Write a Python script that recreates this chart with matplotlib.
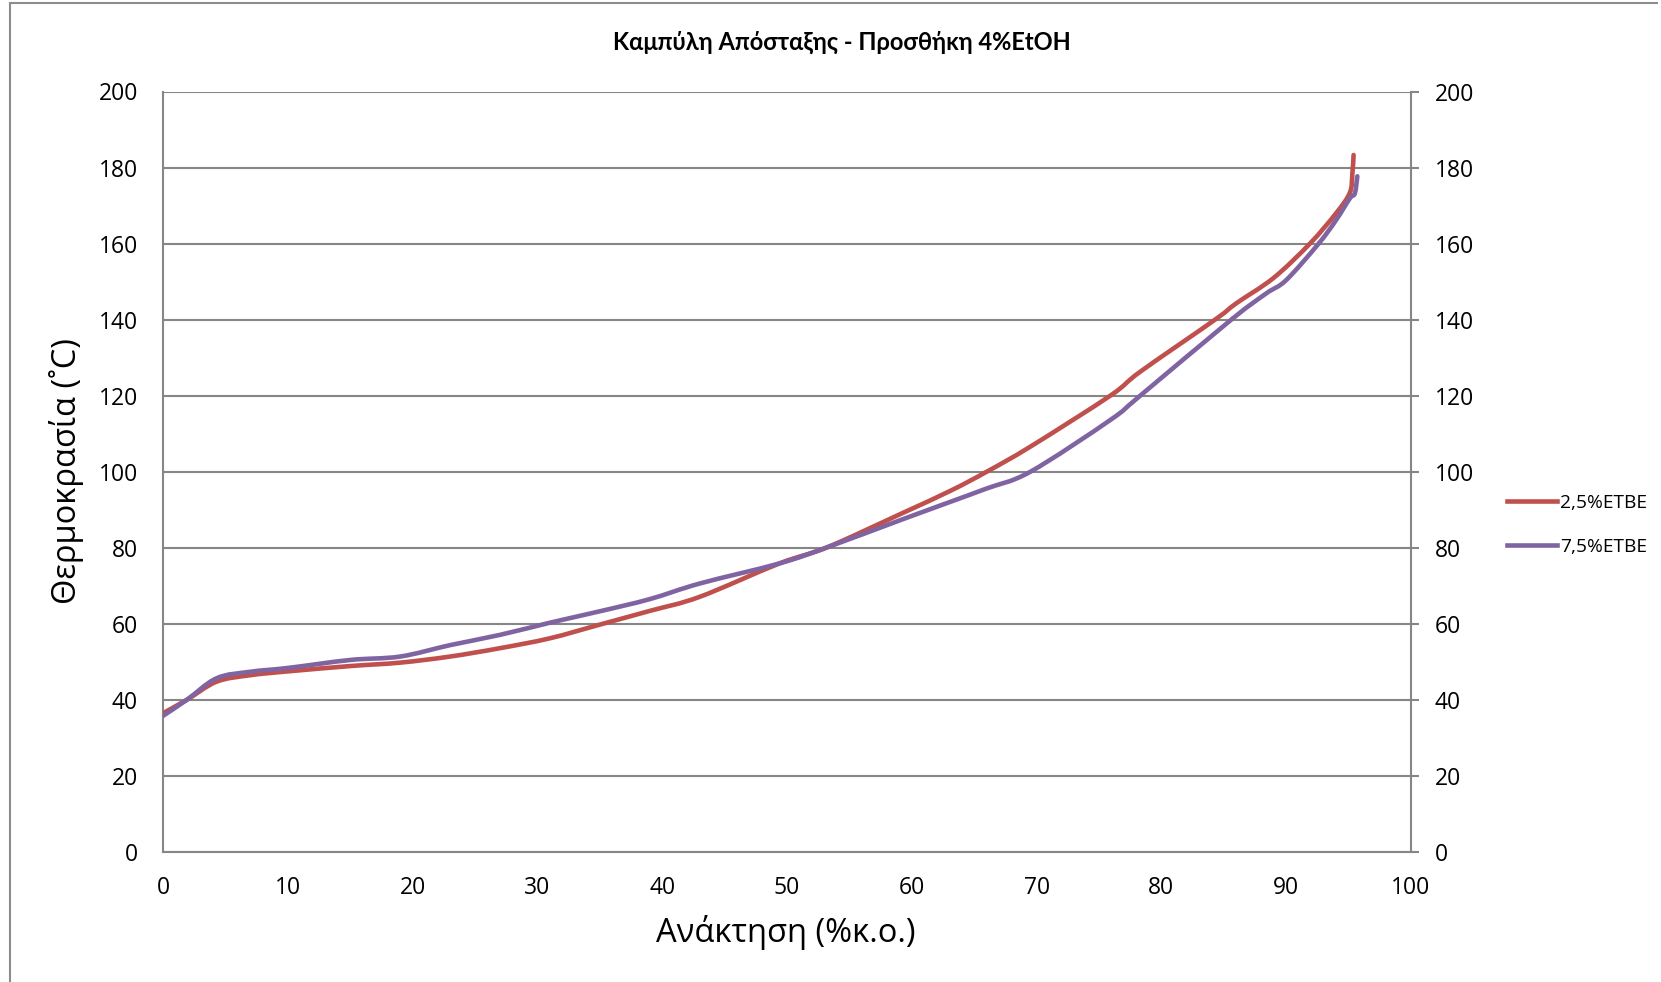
import matplotlib
matplotlib.use("Agg")
import matplotlib.pyplot as plt
from matplotlib.lines import Line2D
from matplotlib.path import Path
from matplotlib.patches import PathPatch

# Distillation curve data: recovered volume (%v/v) vs temperature (°C)
recovery_25 = [0, 1.9, 4.3, 7.0, 10, 15, 19, 23, 27, 31, 35, 39, 43, 49.4, 53.2,
               59.1, 63.1, 66.0, 69.5, 75.9, 78.3, 84.3, 86.0, 89.0,
               91.9, 94.0, 95.1, 95.3, 95.4]
temp_25 = [36.5, 40.0, 44.8, 46.5, 47.5, 48.9, 49.8, 51.4, 53.6, 56.2, 59.8, 63.4,
           67.1, 75.9, 80.1, 88.9, 95.0, 100.0, 106.6, 120.0, 126.3, 140.0,
           144.3, 151.0, 160.0, 168.0, 173.4, 178.3, 183.3]

recovery_75 = [0, 1.9, 4.3, 7.0, 10, 15, 19, 23, 27, 31, 35, 39, 43, 49.4, 53.2,
               59.1, 63.1, 66.0, 69.5, 75.9, 78.3, 85.6, 88.4, 90.0, 92.6,
               94.0, 95.1, 95.5, 95.7]
temp_75 = [35.8, 40.0, 45.7, 47.4, 48.4, 50.5, 51.4, 54.4, 57.1, 60.3, 63.3, 66.5,
           70.6, 75.9, 80.1, 87.3, 92.1, 95.6, 100.0, 113.6, 120.0, 140.0,
           146.9, 150.4, 160.0, 166.2, 171.9, 173.2, 177.7]

series_names = ["2,5%ETBE", "7,5%ETBE"]
series_colors = ["#C0504D", "#8064A2"]

x_ticks = list(range(0, 101, 10))
y_ticks = list(range(0, 201, 20))

title_text = "Καμπύλη Απόσταξης - Προσθήκη 4%EtOH"
x_label = "Ανάκτηση (%κ.ο.)"
y_label = "Θερμοκρασία (˚C)"

plt.rcParams["font.family"] = ["Open Sans", "DejaVu Sans"]


def smooth_path(xs, ys):
    """Smoothed polyline through the points (cubic Bezier, Catmull-Rom tangents)."""
    pts = list(zip(xs, ys))
    verts = [pts[0]]
    codes = [Path.MOVETO]
    n = len(pts)
    for i in range(n - 1):
        p0 = pts[i - 1] if i > 0 else pts[i]
        p1 = pts[i]
        p2 = pts[i + 1]
        p3 = pts[i + 2] if i + 2 < n else pts[i + 1]
        c1 = (p1[0] + (p2[0] - p0[0]) / 6, p1[1] + (p2[1] - p0[1]) / 6)
        c2 = (p2[0] - (p3[0] - p1[0]) / 6, p2[1] - (p3[1] - p1[1]) / 6)
        verts += [c1, c2, p2]
        codes += [Path.CURVE4] * 3
    return Path(verts, codes)


W, H = 1661, 982
fig = plt.figure(figsize=(W / 100, H / 100), dpi=100)
fig.patch.set_facecolor("white")

# outer chart frame (partially visible)
frame_color = "#8C8C8C"
fig.add_artist(Line2D([10 / W, 10 / W], [0, 1 - 3 / H], transform=fig.transFigure,
                      color=frame_color, lw=1.5))
fig.add_artist(Line2D([10 / W, 1657 / W], [1 - 3 / H, 1 - 3 / H], transform=fig.transFigure,
                      color=frame_color, lw=1.5))

left, right, top, bottom = 163, 1411, 91.5, 852
ax = fig.add_axes([left / W, 1 - bottom / H, (right - left) / W, (bottom - top) / H])

grid_color = "#868686"
for xs, ys, col in zip([recovery_25, recovery_75], [temp_25, temp_75], series_colors):
    ax.add_patch(PathPatch(smooth_path(xs, ys), facecolor="none", edgecolor=col,
                           lw=3.3, joinstyle="round", capstyle="round", zorder=3))

ax.set_xlim(0, 100)
ax.set_ylim(0, 200)
ax.set_xticks(x_ticks)
ax.set_yticks(y_ticks)
ax.grid(axis="y", color=grid_color, lw=1.5, zorder=1)
ax.set_axisbelow(True)

for side in ["left", "bottom"]:
    ax.spines[side].set_color(grid_color)
    ax.spines[side].set_linewidth(1.5)
for side in ["top", "right"]:
    ax.spines[side].set_visible(False)

ax.tick_params(axis="x", length=0, pad=17, labelsize=16.5, colors="black")
ax.tick_params(axis="y", length=0, pad=18, labelsize=16.5, colors="black")

# secondary temperature scale on the right
ax2 = ax.twinx()
ax2.set_ylim(0, 200)
ax2.set_yticks(y_ticks)
for side in ["left", "top", "bottom"]:
    ax2.spines[side].set_visible(False)
ax2.spines["right"].set_color(grid_color)
ax2.spines["right"].set_linewidth(1.5)
ax2.tick_params(axis="y", direction="out", length=6, width=1.5, color=grid_color,
                pad=11, labelsize=16.5, labelcolor="black")

fig.text(842 / W, 1 - 42 / H, title_text, ha="center", va="center",
         fontsize=17, fontweight="bold", family=["Lato", "DejaVu Sans"])
fig.text(786 / W, 1 - 932 / H, x_label, ha="center", va="center", fontsize=23.5)
fig.text(66 / W, 1 - 471 / H, y_label, ha="center", va="center", fontsize=23.5,
         rotation=90)

handles = [Line2D([], [], color=c, lw=3.3) for c in series_colors]
fig.legend(handles, series_names, loc="center left",
           bbox_to_anchor=(1490 / W, 1 - 525 / H), frameon=False, fontsize=13.8,
           handlelength=2.6, handletextpad=0.15, labelspacing=1.35)

fig.savefig("out.png", dpi=100, facecolor="white")
